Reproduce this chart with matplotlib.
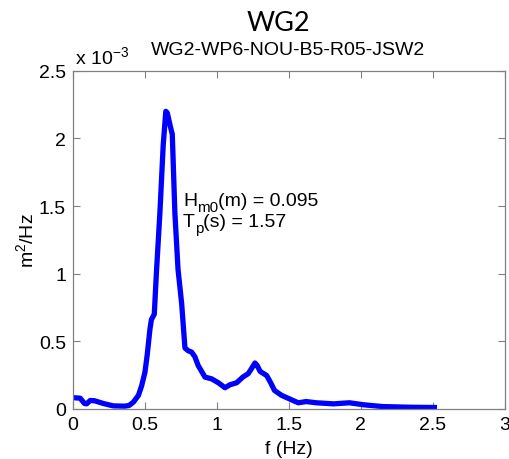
import matplotlib
matplotlib.use('Agg')
import matplotlib.pyplot as plt
from matplotlib.transforms import offset_copy

plt.rcParams['font.family'] = ['Liberation Sans', 'DejaVu Sans']
plt.rcParams['mathtext.fontset'] = 'custom'
plt.rcParams['mathtext.rm'] = 'Liberation Sans'
plt.rcParams['mathtext.it'] = 'Liberation Sans:italic'

# spectrum (S in units of 1e-3 m^2/Hz)
freq = [0.01, 0.05, 0.08, 0.095, 0.12, 0.15, 0.21, 0.28, 0.36, 0.39, 0.42, 0.455,
        0.477, 0.50, 0.516, 0.535, 0.545, 0.565, 0.58, 0.604, 0.627, 0.645, 0.655,
        0.674, 0.69, 0.708, 0.73, 0.755, 0.778, 0.80, 0.824, 0.847, 0.87, 0.917,
        0.963, 1.01, 1.056, 1.09, 1.137, 1.18, 1.217, 1.24, 1.264, 1.28, 1.30,
        1.345, 1.37, 1.40, 1.449, 1.518, 1.565, 1.62, 1.69, 1.81, 1.92, 2.02,
        2.15, 2.34, 2.51]
psd_e3 = [0.082, 0.079, 0.04, 0.037, 0.062, 0.06, 0.04, 0.022, 0.02, 0.025, 0.05, 0.10,
          0.17, 0.27, 0.40, 0.59, 0.66, 0.70, 1.01, 1.45, 1.95, 2.20, 2.19,
          2.10, 2.03, 1.45, 1.03, 0.78, 0.45, 0.43, 0.42, 0.385, 0.32, 0.235,
          0.222, 0.193, 0.156, 0.178, 0.193, 0.235, 0.26, 0.297, 0.339, 0.32, 0.277,
          0.247, 0.2, 0.136, 0.10, 0.067, 0.045, 0.054, 0.045, 0.037, 0.045, 0.03,
          0.017, 0.012, 0.01]

xticks = [0, 0.5, 1, 1.5, 2, 2.5, 3]
yticks = [0, 0.5, 1, 1.5, 2, 2.5]
hm0 = 0.095
tp = 1.57

fig = plt.figure(figsize=(5.1, 4.6), dpi=100)
ax = fig.add_axes([0.143, 0.109, 0.847, 0.735])

ax.plot(freq, psd_e3, color='#0000ff', linewidth=3.8, solid_joinstyle='round')

ax.set_xlim(0, 3)
ax.set_ylim(0, 2.5)
ax.set_xticks(xticks)
ax.set_yticks(yticks)
ax.set_xticklabels(['%g' % t for t in xticks])
ax.set_yticklabels(['%g' % t for t in yticks])
ax.tick_params(direction='in', top=True, right=True, length=5, width=0.8,
               colors='#808080', labelcolor='black', labelsize=14, pad=5)
for s in ax.spines.values():
    s.set_color('#808080')
    s.set_linewidth(0.9)

ax.set_xlabel('f (Hz)', fontsize=14, labelpad=5)
ax.set_ylabel('m$^2$/Hz', fontsize=14, labelpad=1)

ax.text(0.005, 1.012, r'x 10$^{-3}$', transform=ax.transAxes, fontsize=14,
        ha='left', va='bottom')

# MATLAB-like subscripts: smaller and dropped well below the baseline
renderer = fig.canvas.get_renderer()


def rich_text(x, y, parts):
    dx = 0
    for s, size, dy in parts:
        tr = offset_copy(ax.transData, fig=fig, x=dx, y=dy, units='dots')
        t = ax.text(x, y, s, fontsize=size, ha='left', va='baseline', transform=tr)
        dx += t.get_window_extent(renderer).width


rich_text(0.764, 1.506, [('H', 14, 0), ('m0', 11, -6), ('(m) = %.3f' % hm0, 14, 0)])
rich_text(0.764, 1.35, [('T', 14, 0), ('p', 11, -6), ('(s) = %.2f' % tp, 14, 0)])

fig.text(0.546, 0.949, 'WG2', fontsize=19.5, ha='center', va='center',
         family=['Lato', 'DejaVu Sans'])
fig.text(0.565, 0.891, 'WG2-WP6-NOU-B5-R05-JSW2', fontsize=14, ha='center',
         va='center')

fig.savefig('out.png', dpi=100)
